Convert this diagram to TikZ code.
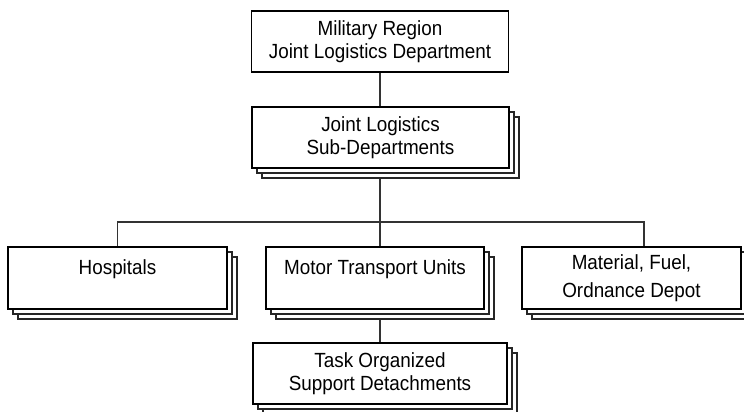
\documentclass[tikz,border=0pt]{standalone}
\usepackage{fontspec}
\setmainfont{Liberation Sans}[FakeStretch=0.92]
\usetikzlibrary{shadows,backgrounds}

\tikzset{
  unit/.style={draw=black, line width=1.1pt, fill=white, inner sep=0pt, align=center,
    font=\fontsize{20.5}{23.5}\selectfont},
  stack/.style={copy shadow={shadow xshift=10pt, shadow yshift=-10pt, line width=1.1pt, draw=black!85},
    copy shadow={shadow xshift=5pt, shadow yshift=-5pt, line width=1.1pt, draw=black!85}},
  oneline/.style={text height=15pt, text depth=23pt},
  link/.style={draw=black!80, line width=1.1pt}
}

\begin{document}
\begin{tikzpicture}[x=1pt, y=-1pt]

\useasboundingbox (0,0) rectangle (744,412);

\node [unit, minimum width=257pt, minimum height=61pt] (region) at (380,41.5) {Military Region\\Joint Logistics Department};
\node [unit, stack, minimum width=257pt, minimum height=61pt] (subdep) at (380.5,137.5) {Joint Logistics\\Sub-Departments};

\node [unit, stack, oneline, minimum width=219pt, minimum height=62pt] (hosp) at (117.5,278) {Hospitals};
\node [unit, stack, oneline, minimum width=218pt, minimum height=62pt] (motor) at (375,278) {Motor Transport Units};
\node [unit, stack, minimum width=219pt, minimum height=62pt] (depot) at (631.5,278) {Material, Fuel,\\[4pt]Ordnance Depot};

\node [unit, stack, minimum width=254pt, minimum height=61pt] (task) at (380,373.5) {Task Organized\\Support Detachments};

\coordinate (bus) at (380,222);

\begin{scope}[on background layer]
\draw [link] (region.south -| bus) -- (bus);
\draw [link] (bus) -- (bus |- motor.north);
\draw [link] (hosp.north) |- (bus) -| ([xshift=12.5pt]depot.north);
\draw [link] (motor.south -| task.north) -- (task.north);
\end{scope}

\end{tikzpicture}
\end{document}
